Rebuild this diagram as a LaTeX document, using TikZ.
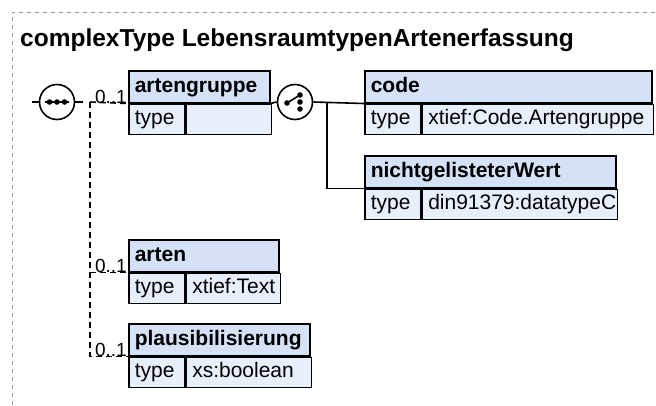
\documentclass[tikz,border=0pt]{standalone}
\usepackage{fontspec}
\setmainfont{Liberation Sans}
\usetikzlibrary{calc}
\definecolor{hdrfill}{RGB}{212,225,246}
\definecolor{bodyfill}{RGB}{232,239,252}
\definecolor{framegray}{RGB}{150,150,150}
\newcommand\boxfont{\fontsize{21}{25}\selectfont}
\begin{document}
\begin{tikzpicture}[x=1pt,y=-1pt,
  hdr/.style={draw=black, fill=hdrfill, line width=1.5pt, anchor=north west,
    inner xsep=6pt, inner ysep=0pt, minimum height=32pt, text height=16pt,
    text depth=5pt, align=left, font=\boxfont\bfseries},
  cell/.style={draw=black, fill=bodyfill, line width=1.5pt, anchor=north west,
    inner xsep=6pt, inner ysep=0pt, minimum height=30pt, text height=16pt,
    text depth=5pt, align=left, font=\boxfont},
  comp/.style={circle, draw=black, fill=white, line width=1.6pt, minimum size=35pt, inner sep=0pt},
  opt/.style={draw=black, line width=1.6pt, dash pattern=on 6pt off 4pt},
  req/.style={draw=black, line width=1.6pt},
  mult/.style={font=\fontsize{19}{21}\selectfont, anchor=south east, inner xsep=1pt, inner ysep=0pt},
  framestyle/.style={draw=framegray, line width=1pt, dash pattern=on 4pt off 4pt},
  dot/.style={fill=black, draw=none}
]
\useasboundingbox (0,0) rectangle (656,405);
\fill[white] (0,0) rectangle (656,405);
% outer frame
\draw[framestyle] (12,405) -- (12,12) -- (656,12);
\node[anchor=base west, inner sep=0pt, font=\fontsize{24.5}{28}\selectfont\bfseries] (title) at (20,46) {complexType LebensraumtypenArtenerfassung};

% sequence compositor
\coordinate (in) at (32,102);
\node[comp] (seq) at (57,102) {};
\draw[req] (in) -- (seq.west);
\draw[line width=1.6pt] ($(seq.center)+(-12,0)$) -- ($(seq.center)+(12,0)$);
\foreach \dx in {-7.5,0,7.5} \fill[dot] ($(seq.center)+(\dx,0)$) circle (2.8pt);

% artengruppe
\node[hdr, text width=129pt] (agh) at (128,70) {artengruppe};
\node[cell, text width=44pt] (agt) at (agh.south west) {type};
\node[cell, text width=73pt] (agv) at (agt.north east) {};

% arten
\node[hdr, text width=138pt] (arh) at (128,239) {arten};
\node[cell, text width=44pt] (art) at (arh.south west) {type};
\node[cell, text width=82pt] (arv) at (art.north east) {xtief:Text};

% plausibilisierung
\node[hdr, text width=169pt] (plh) at (128,323) {plausibilisierung};
\node[cell, text width=44pt] (plt) at (plh.south west) {type};
\node[cell, text width=113pt] (plv) at (plt.north east) {xs:boolean};

% connectors from sequence
\coordinate (bus) at (90,102);
\draw[req] (seq.east) -- ++(8,0) coordinate (stub);
\draw[opt] (bus) -- (agh.south west);
\draw[opt] (bus) |- (arh.south west);
\draw[opt] (bus) |- (plh.south west);
\node[mult] at (agh.south west) {0..1};
\node[mult] at (arh.south west) {0..1};
\node[mult] at (plh.south west) {0..1};

% choice compositor
\node[comp] (cho) at (295,102) {};
\draw[req] (agh.south east) -- (cho.west);
\draw[line width=1.6pt] ($(cho.center)+(-8,1)$) -- ($(cho.center)+(5,-7)$);
\fill[dot] ($(cho.center)+(-8,1)$) circle (2.8pt);
\foreach \dy in {-7,0,7} \fill[dot] ($(cho.center)+(5,\dy)$) circle (2.8pt);

% code
\node[hdr, text width=275pt] (coh) at (364,70) {code};
\node[cell, text width=44pt] (cot) at (coh.south west) {type};
\node[cell, text width=219pt] (cov) at (cot.north east) {xtief:Code.Artengruppe};

% nichtgelisteterWert
\node[hdr, text width=239pt] (nih) at (364,155) {nichtgelisteterWert};
\node[cell, text width=44pt] (nit) at (nih.south west) {type};
\node[cell, text width=183pt] (niv) at (nit.north east) {din91379:datatypeC};

\coordinate (cbus) at (327,102);
\draw[req] (cho.east) -- (coh.south west);
\draw[req] (cbus) |- (nih.south west);
\end{tikzpicture}
\end{document}
